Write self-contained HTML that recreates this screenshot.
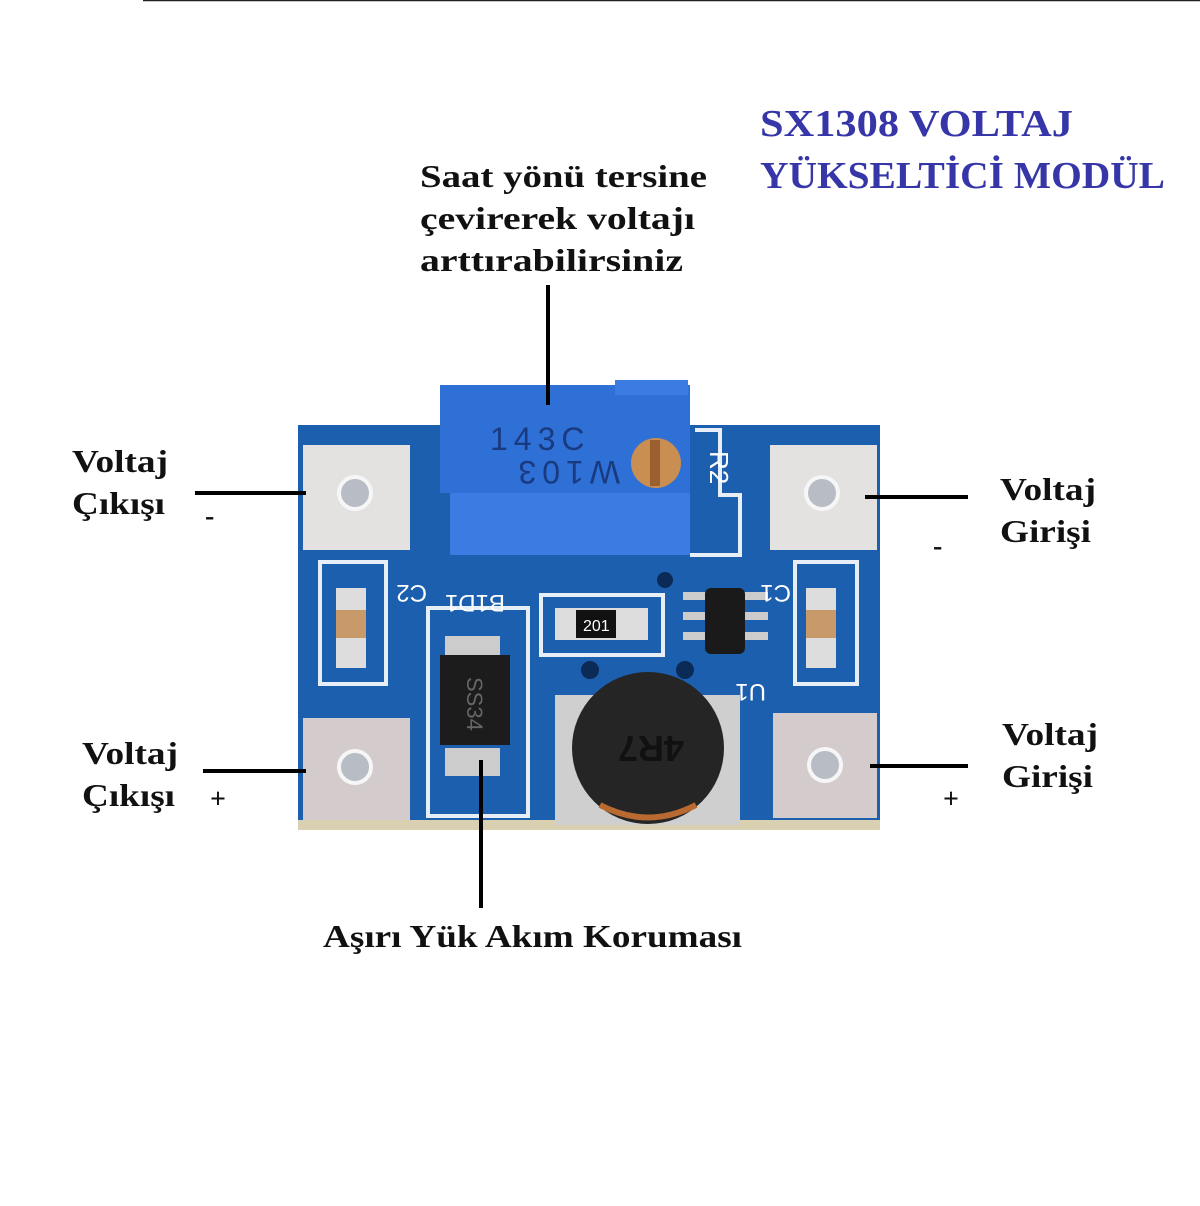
<!DOCTYPE html>
<html><head><meta charset="utf-8"><style>
body{margin:0;background:#fff;}
svg{display:block}
.s{font-family:"Liberation Serif",serif;font-weight:bold;}
.a{font-family:"Liberation Sans",sans-serif;}
</style></head><body>
<svg width="1200" height="1206" viewBox="0 0 1200 1206" xmlns="http://www.w3.org/2000/svg">
<rect width="1200" height="1206" fill="#fff"/>
<line x1="143" y1="0.5" x2="1200" y2="0.5" stroke="#222" stroke-width="1.5"/>
<rect x="298" y="425" width="582" height="405" fill="#1b5fae"/>
<rect x="298" y="820" width="582" height="10" fill="#d8d0b0"/>
<g fill="none" stroke="#e8eef8" stroke-width="4">
<rect x="320" y="562" width="66" height="122"/>
<rect x="795" y="562" width="62" height="122"/>
<rect x="428" y="608" width="100" height="208"/>
<rect x="541" y="595" width="122" height="60"/>
<polyline points="695,430 720,430 720,495 740,495 740,555 690,555"/>
</g>
<g fill="#e4e2e0">
<rect x="303" y="445" width="107" height="105"/>
<rect x="770" y="445" width="107" height="105"/>
<rect x="303" y="718" width="107" height="102" fill="#d4cccc"/>
<rect x="773" y="713" width="104" height="105" fill="#d4cccc"/>
<rect x="555" y="695" width="185" height="130" fill="#cfcfcf"/>
</g>
<g fill="#b8bcc4" stroke="#f6f6f6" stroke-width="4">
<circle cx="355" cy="493" r="16"/><circle cx="822" cy="493" r="16"/>
<circle cx="355" cy="767" r="16"/><circle cx="825" cy="765" r="16"/>
</g>
<rect x="440" y="385" width="250" height="108" fill="#2e70d6"/>
<rect x="450" y="493" width="240" height="62" fill="#3a7ce2"/>
<rect x="615" y="380" width="73" height="15" fill="#3a7ce2"/>
<text class="a" x="490" y="450" font-size="32" fill="#1a3a80" letter-spacing="6">143C</text>
<text class="a" x="490" y="485" font-size="32" fill="#1a3a80" letter-spacing="6" transform="rotate(180 555 473)">W103</text>
<circle cx="656" cy="463" r="25" fill="#c98e52"/>
<rect x="650" y="440" width="10" height="46" fill="#9a6030"/>
<text class="a" x="707" y="470" font-size="26" fill="#fff" transform="rotate(90 718 462)">R2</text>
<rect x="336" y="588" width="30" height="80" fill="#ddd"/><rect x="336" y="610" width="30" height="28" fill="#c89a6a"/>
<rect x="806" y="588" width="30" height="80" fill="#ddd"/><rect x="806" y="610" width="30" height="28" fill="#c89a6a"/>
<rect x="555" y="608" width="93" height="32" fill="#ddd"/><rect x="576" y="610" width="40" height="28" fill="#111"/>
<text class="a" x="583" y="631" font-size="16" fill="#fff">201</text>
<rect x="683" y="592" width="85" height="8" fill="#ccc"/><rect x="683" y="612" width="85" height="8" fill="#ccc"/><rect x="683" y="632" width="85" height="8" fill="#ccc"/>
<rect x="705" y="588" width="40" height="66" rx="6" fill="#1a1a1a"/>
<circle cx="665" cy="580" r="8" fill="#0b2a55"/><circle cx="590" cy="670" r="9" fill="#0b2a55"/><circle cx="685" cy="670" r="9" fill="#0b2a55"/>
<rect x="445" y="636" width="55" height="28" fill="#ccc"/><rect x="445" y="748" width="55" height="28" fill="#ccc"/>
<rect x="440" y="655" width="70" height="90" fill="#1c1c1c"/>
<text class="a" x="452" y="708" font-size="22" fill="#666" transform="rotate(90 475 700)">SS34</text>
<circle cx="648" cy="748" r="76" fill="#252525"/>
<path d="M600 805 Q648 830 696 805" stroke="#b86a30" stroke-width="6" fill="none"/>
<text class="a" x="612" y="760" font-size="36" font-weight="bold" fill="#111" transform="rotate(180 648 748)">4R7</text>
<g class="a" font-size="24" fill="#fff">
<text x="393" y="565" transform="rotate(180 410 575)">C2</text>
<text x="465" y="575" transform="rotate(180 485 585)">B1D1</text>
<text x="755" y="565" transform="rotate(180 773 575)">C1</text>
<text x="730" y="680" transform="rotate(180 748 682)">U1</text>
</g>
<g stroke="#000" stroke-width="4">
<line x1="548" y1="285" x2="548" y2="405"/>
<line x1="195" y1="493" x2="306" y2="493"/>
<line x1="203" y1="771" x2="306" y2="771"/>
<line x1="865" y1="497" x2="968" y2="497"/>
<line x1="870" y1="766" x2="968" y2="766"/>
<line x1="481" y1="760" x2="481" y2="908"/>
</g>
<g class="s" fill="#3636a8" font-size="38">
<text x="760" y="136" textLength="313" lengthAdjust="spacingAndGlyphs">SX1308 VOLTAJ</text>
<text x="760" y="188" textLength="405" lengthAdjust="spacingAndGlyphs">YÜKSELTİCİ MODÜL</text>
</g>
<g class="s" fill="#111" font-size="32">
<text x="420" y="187" textLength="287" lengthAdjust="spacingAndGlyphs">Saat yönü tersine</text>
<text x="420" y="229" textLength="275" lengthAdjust="spacingAndGlyphs">çevirerek voltajı</text>
<text x="420" y="271" textLength="263" lengthAdjust="spacingAndGlyphs">arttırabilirsiniz</text>
<text x="72" y="472" textLength="96" lengthAdjust="spacingAndGlyphs">Voltaj</text>
<text x="72" y="514" textLength="93" lengthAdjust="spacingAndGlyphs">Çıkışı</text>
<text x="205" y="525" font-size="28">-</text>
<text x="82" y="764" textLength="96" lengthAdjust="spacingAndGlyphs">Voltaj</text>
<text x="82" y="806" textLength="93" lengthAdjust="spacingAndGlyphs">Çıkışı</text>
<text x="210" y="808" font-size="28">+</text>
<text x="1000" y="500" textLength="96" lengthAdjust="spacingAndGlyphs">Voltaj</text>
<text x="1000" y="542" textLength="91" lengthAdjust="spacingAndGlyphs">Girişi</text>
<text x="933" y="555" font-size="28">-</text>
<text x="1002" y="745" textLength="96" lengthAdjust="spacingAndGlyphs">Voltaj</text>
<text x="1002" y="787" textLength="91" lengthAdjust="spacingAndGlyphs">Girişi</text>
<text x="943" y="808" font-size="28">+</text>
<text x="323" y="947" textLength="419" lengthAdjust="spacingAndGlyphs">Aşırı Yük Akım Koruması</text>
</g>
</svg>
</body></html>
